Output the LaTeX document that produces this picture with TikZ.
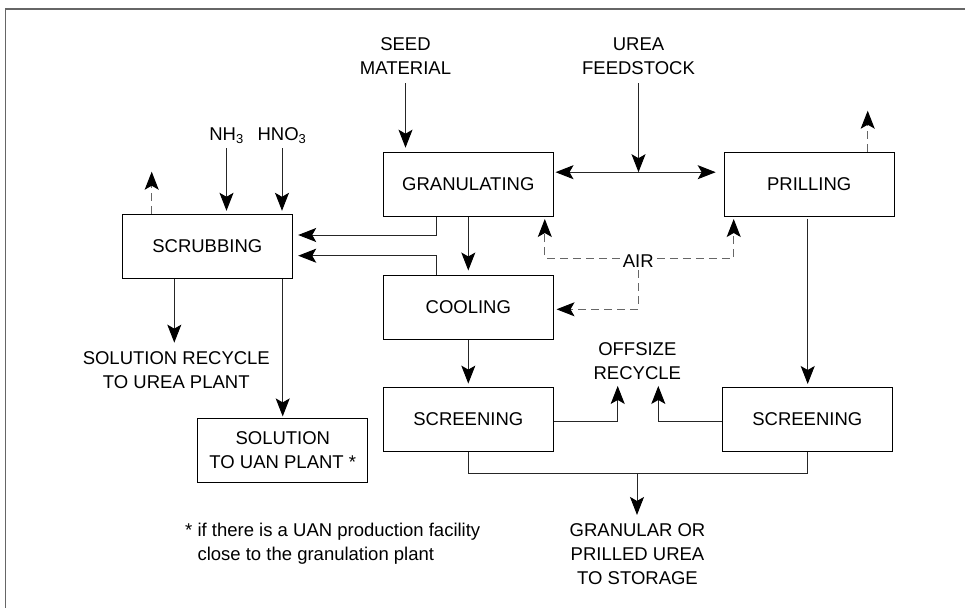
\documentclass[tikz,border=0pt]{standalone}
\usepackage{fontspec}
\setmainfont{Liberation Sans}
\usetikzlibrary{arrows.meta,calc}
\begin{document}
\begin{tikzpicture}[x=1pt,y=-1pt,
  every node/.style={font=\fontsize{18.5}{24}\selectfont},
  box/.style={draw=black,line width=1pt,minimum width=170pt,minimum height=64pt,inner sep=0pt,anchor=center,align=center},
  lbl/.style={inner sep=0pt,align=center},
  ln/.style={line width=1pt,draw=black!85},
  tip/.style={Stealth[length=18pt,width=14pt,inset=4pt,color=black]},
  arr/.style={ln,-{Stealth[length=18pt,width=14pt,inset=4pt,color=black]}},
  dblarr/.style={ln,{Stealth[length=18pt,width=14pt,inset=4pt,color=black]}-{Stealth[length=18pt,width=14pt,inset=4pt,color=black]}},
  dsh/.style={arr,draw=black!60,dash pattern=on 8pt off 5pt}]
\useasboundingbox (0,0) rectangle (965,607);
% frame
\draw[black!60,line width=1.3pt] (5.5,620) -- (5.5,9) -- (975,9);
% boxes
\node[box] (gran) at (468.3,184.2) {GRANULATING};
\node[box] (prill) at (809.2,184.2) {PRILLING};
\node[box] (scrub) at (207.3,246.3) {SCRUBBING};
\node[box] (cool) at (468.3,307.3) {COOLING};
\node[box] (scr1) at (468.3,419.5) {SCREENING};
\node[box] (scr2) at (807.3,419.5) {SCREENING};
\node[box] (uan) at (282.8,450.5) {SOLUTION\\TO UAN PLANT *};
% labels
\node[lbl] (seed) at (405.5,56.3) {SEED\\MATERIAL};
\node[lbl] (feed) at (638.5,56.3) {UREA\\FEEDSTOCK};
\node[lbl,anchor=base] (nh3) at (226.5,140.7) {NH\textsubscript{3}};
\node[lbl,anchor=base] (hno3) at (282,140.7) {HNO\textsubscript{3}};
\node[lbl] (recyc) at (176.3,369.7) {SOLUTION RECYCLE\\TO UREA PLANT};
\node[inner sep=3pt] (air) at (638.3,260.8) {AIR};
\node[lbl] (offs) at (637.3,361.2) {OFFSIZE\\RECYCLE};
\node[lbl] (store) at (637.5,553.7) {GRANULAR OR\\PRILLED UREA\\TO STORAGE};
\node[lbl,align=left,anchor=north west] (note) at (185,523.3) {* if there is a UAN production facility\\\hphantom{* }close to the granulation plant};
% coordinates
\coordinate (dbl) at ($(gran.east)+(0,-12)$);
\coordinate (vent1) at (151.7,171.7);
\coordinate (vent2) at (867.7,110.7);
\coordinate (junc) at (637,473.7);
% connectors
\draw[arr,shorten <=8.5pt,shorten >=4pt] (seed.south) -- (seed.south |- gran.north);
\draw[arr,shorten <=8.5pt] (feed.south) -- (feed.south |- dbl);
\draw[dblarr,shorten <=1.7pt,shorten >=8pt] (gran.east |- dbl) -- (prill.west |- dbl);
\draw[arr,shorten <=4pt,shorten >=3pt] (nh3.south) -- (nh3.south |- scrub.north);
\draw[arr,shorten <=4pt,shorten >=3pt] (hno3.south) -- (hno3.south |- scrub.north);
\draw[dsh] (vent1 |- scrub.north) -- (vent1);
\draw[dsh] (vent2 |- prill.north) -- (vent2);
\draw[arr,shorten >=5.4pt] ([xshift=-31.6pt]gran.south) |- ([yshift=11.3pt]scrub.east);
\draw[arr,shorten >=5.4pt] ([xshift=-31.6pt]cool.north) |- ([yshift=-9.4pt]scrub.east);
\draw[arr,shorten >=4.3pt] (gran.south) -- (cool.north);
\draw[arr,shorten >=8.3pt] ([xshift=-33pt]scrub.south) -- ([xshift=-33pt]scrub.south |- recyc.north);
\draw[arr,shorten >=1.6pt] ([xshift=75.4pt]scrub.south) -- ([xshift=75.4pt]scrub.south |- uan.north);
\draw[dsh,shorten >=2.3pt] ([yshift=2.5pt]air.west) -| ([xshift=-9pt]gran.south east);
\draw[dsh,shorten >=2.3pt] ([yshift=2.5pt]air.east) -| ([xshift=10pt]prill.south west);
\draw[dsh,shorten >=2.7pt] (air.south) |- ([yshift=-2pt]cool.east);
\draw[arr,shorten >=3.4pt] (cool.south) -- (scr1.north);
\draw[arr,shorten <=2pt,shorten >=3pt] ([xshift=-1.5pt]prill.south) -- ([xshift=-1.5pt]prill.south |- scr2.north);
\draw[arr,shorten >=6pt] ([yshift=-2.2pt]scr1.east) -| ([xshift=-19.6pt]offs.south);
\draw[arr,shorten >=6pt] ([yshift=-2.2pt]scr2.west) -| ([xshift=21pt]offs.south);
\draw[ln] (scr1.south) |- (junc) -| (scr2.south);
\draw[arr,shorten >=8pt] (junc) -- (junc |- store.north);
\end{tikzpicture}
\end{document}
